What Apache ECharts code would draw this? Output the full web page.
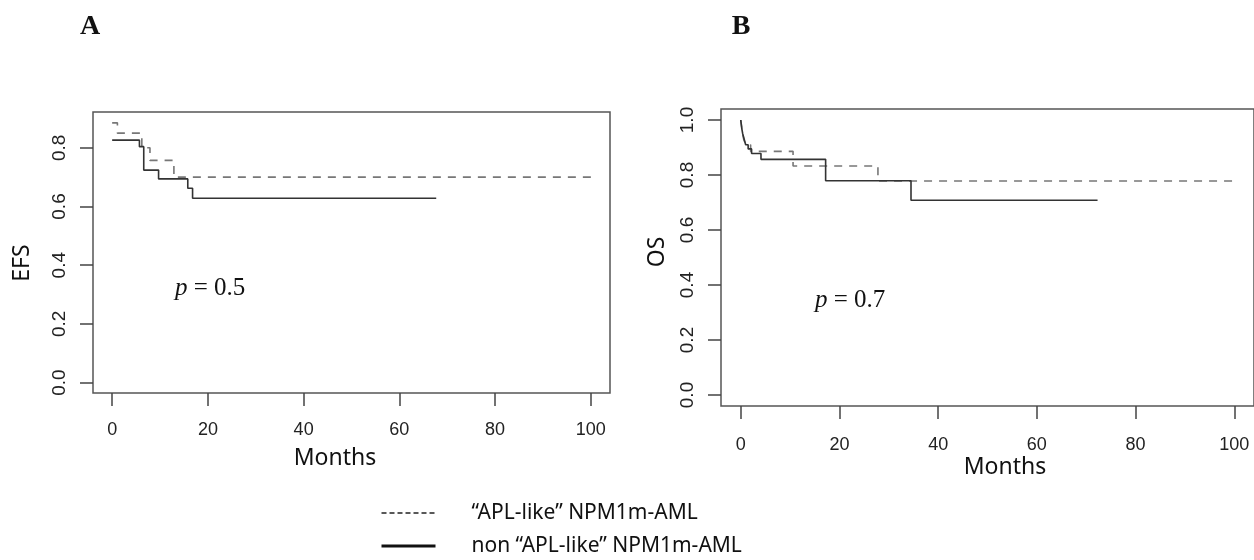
<!DOCTYPE html>
<html>
<head>
<meta charset="utf-8">
<script src="https://cdn.jsdelivr.net/npm/echarts@6/dist/echarts.min.js"></script>
<style>
html,body{margin:0;padding:0;background:#fff;}
#chart{width:1254px;height:560px;}
</style>
</head>
<body>
<div id="chart"></div>
<script>
// ---- Data ----
const seriesNames = ['“APL-like” NPM1m-AML', 'non “APL-like” NPM1m-AML'];
const xTicks = [0, 20, 40, 60, 80, 100];
const efsTicks = [0, 0.2, 0.4, 0.6, 0.8];
const osTicks = [0, 0.2, 0.4, 0.6, 0.8, 1.0];

// Panel A: EFS
const efsAplMonths = [0, 1.1, 6.2, 7.9, 12.9, 100];
const efsAplValues = [0.885, 0.85, 0.80, 0.757, 0.70, 0.70];
const efsNonMonths = [0, 5.7, 6.6, 9.7, 15.8, 16.8, 67.7];
const efsNonValues = [0.826, 0.804, 0.724, 0.694, 0.662, 0.628, 0.628];

// Panel B: OS
const osAplMonths = [0, 0.3, 0.6, 1.0, 2.0, 10.6, 27.8, 100];
const osAplValues = [1.0, 0.96, 0.93, 0.91, 0.886, 0.833, 0.778, 0.778];
const osNonMonths = [0, 0.2, 0.4, 0.7, 1.0, 1.5, 2.2, 4.1, 17.2, 34.5, 72.3];
const osNonValues = [1.0, 0.97, 0.95, 0.93, 0.91, 0.895, 0.878, 0.857, 0.779, 0.708, 0.708];

const pValueA = '0.5';
const pValueB = '0.7';

// ---- Build ----
function pairs(xs, ys) { return xs.map((x, i) => [x, ys[i]]); }

const tickFont = { fontFamily: 'Liberation Sans', fontSize: 18, color: '#222' };
const dashStyle = { color: '#777', width: 1.6, type: [8, 7] };
const solidStyle = { color: '#333', width: 1.6, type: 'solid' };

function xAxisFor(gridIndex, margin) {
  return {
    type: 'value', gridIndex: gridIndex, min: -4, max: 104,
    axisLine: { show: false, onZero: false }, splitLine: { show: false },
    axisTick: { show: true, length: 13, inside: false, customValues: xTicks, lineStyle: { color: '#444', width: 1.5 } },
    axisLabel: Object.assign({ margin: margin, customValues: xTicks, formatter: v => String(v) }, tickFont)
  };
}
function yAxisFor(gridIndex, min, max, ticks) {
  return {
    type: 'value', gridIndex: gridIndex, min: min, max: max,
    axisLine: { show: false, onZero: false }, splitLine: { show: false },
    axisTick: { show: true, length: 13, inside: false, customValues: ticks, lineStyle: { color: '#444', width: 1.5 } },
    axisLabel: Object.assign({ margin: 24, rotate: 90, customValues: ticks, formatter: v => v.toFixed(1) }, tickFont, { fontSize: 19 })
  };
}
function km(name, xi, yi, xs, ys, style) {
  return {
    name: name, type: 'line', xAxisIndex: xi, yAxisIndex: yi,
    data: pairs(xs, ys), step: 'end', symbol: 'none', clip: false,
    itemStyle: { color: style.color },
    lineStyle: style, emphasis: { disabled: true }, silent: true, animation: false
  };
}

const chart = echarts.init(document.getElementById('chart'), null, { renderer: 'canvas' });
chart.setOption({
  backgroundColor: '#fff',
  animation: false,
  grid: [
    { left: 93, top: 112, width: 517, height: 281, show: true, borderColor: '#555', borderWidth: 1.5, backgroundColor: 'transparent' },
    { left: 721, top: 109, width: 536, height: 297, show: true, borderColor: '#555', borderWidth: 1.5, backgroundColor: 'transparent' }
  ],
  xAxis: [xAxisFor(0, 28), xAxisFor(1, 30)],
  yAxis: [
    yAxisFor(0, -0.0355, 0.922, efsTicks),
    yAxisFor(1, -0.04, 1.04, osTicks)
  ],
  legend: {
    orient: 'vertical', left: 380, top: 501, padding: 0,
    itemWidth: 54, itemHeight: 14, itemGap: 9,
    selectedMode: false,
    textStyle: { fontFamily: 'Noto Sans', fontSize: 21, color: '#111', padding: [0, 0, 0, 31], lineHeight: 24 },
    data: [
      { name: seriesNames[0], itemStyle: { opacity: 0, borderWidth: 0 }, lineStyle: { color: '#222', width: 1.5, type: [5, 3] } },
      { name: seriesNames[1], itemStyle: { opacity: 0, borderWidth: 0 }, lineStyle: { color: '#111', width: 3, type: 'solid' } }
    ]
  },
  series: [
    km(seriesNames[0], 0, 0, efsAplMonths, efsAplValues, dashStyle),
    km(seriesNames[1], 0, 0, efsNonMonths, efsNonValues, solidStyle),
    km(seriesNames[0], 1, 1, osAplMonths, osAplValues, dashStyle),
    km(seriesNames[1], 1, 1, osNonMonths, osNonValues, solidStyle)
  ],
  graphic: [
    { type: 'text', x: 90, y: 27, style: { text: 'A', font: 'bold 28px "Liberation Serif"', fill: '#111', align: 'center', verticalAlign: 'middle' } },
    { type: 'text', x: 741, y: 27, style: { text: 'B', font: 'bold 28px "Liberation Serif"', fill: '#111', align: 'center', verticalAlign: 'middle' } },
    { type: 'text', x: 22, y: 263, rotation: Math.PI / 2, style: { text: 'EFS', font: '23px "Noto Sans"', fill: '#111', align: 'center', verticalAlign: 'middle' } },
    { type: 'text', x: 657, y: 252, rotation: Math.PI / 2, style: { text: 'OS', font: '23px "Noto Sans"', fill: '#111', align: 'center', verticalAlign: 'middle' } },
    { type: 'text', x: 335, y: 458, style: { text: 'Months', font: '23px "Noto Sans"', fill: '#111', align: 'center', verticalAlign: 'middle' } },
    { type: 'text', x: 1005, y: 467, style: { text: 'Months', font: '23px "Noto Sans"', fill: '#111', align: 'center', verticalAlign: 'middle' } },
    { type: 'text', x: 175, y: 288, style: { text: '{i|p} = ' + pValueA, font: '25px "Liberation Serif"', fill: '#111', align: 'left', verticalAlign: 'middle',
        rich: { i: { fontStyle: 'italic', fontSize: 25, fontFamily: 'Liberation Serif' } } } },
    { type: 'text', x: 815, y: 300, style: { text: '{i|p} = ' + pValueB, font: '25px "Liberation Serif"', fill: '#111', align: 'left', verticalAlign: 'middle',
        rich: { i: { fontStyle: 'italic', fontSize: 25, fontFamily: 'Liberation Serif' } } } }
  ]
});
</script>
</body>
</html>
